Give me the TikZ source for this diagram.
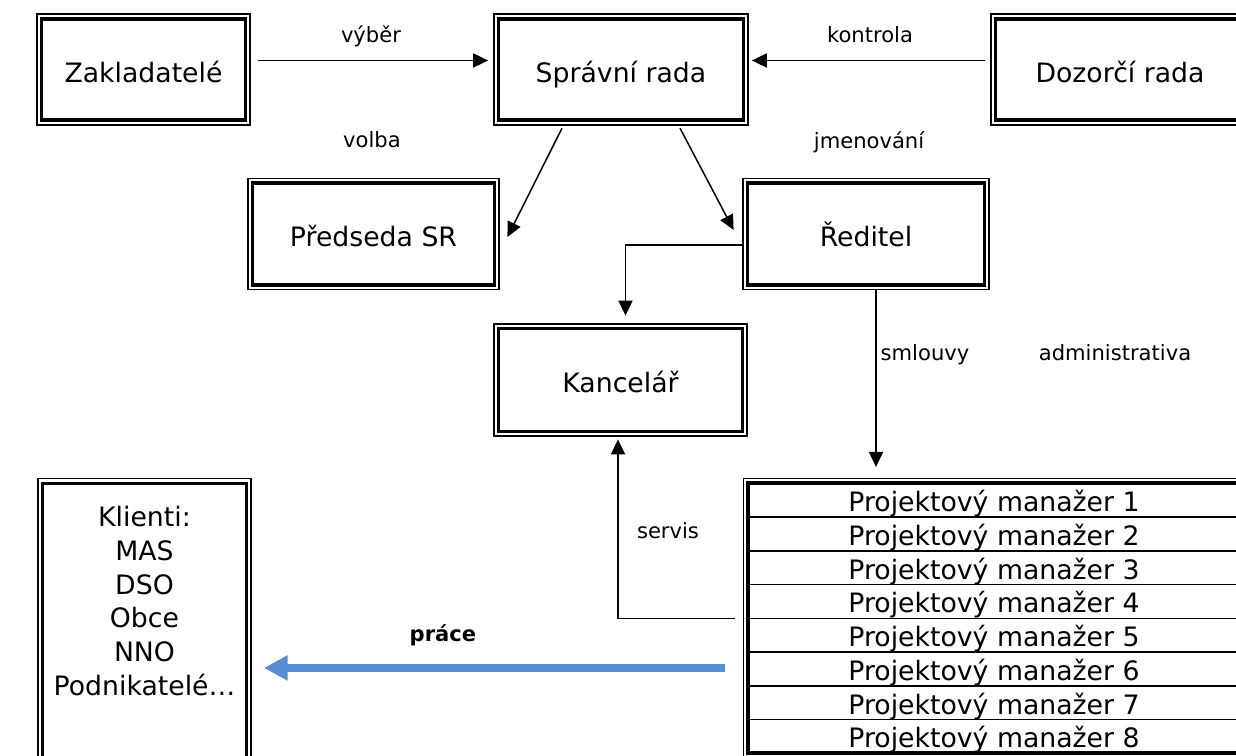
\documentclass[tikz,border=0pt]{standalone}
\usepackage{fontspec}
\setmainfont{DejaVu Sans}
\usetikzlibrary{arrows.meta,fit}

\definecolor{workblue}{RGB}{85,142,213}

\begin{document}
\begin{tikzpicture}[x=0.02cm, y=-0.02cm,
  frame/.style={draw, line width=2.2pt},
  orgbox/.style={frame, minimum width=#1, minimum height=2.03cm, inner sep=0pt,
    font=\fontsize{15.2}{17.4}\selectfont, text height=0.6cm, text depth=0.092cm},
  pmrow/.style={draw, line width=0.85pt, outer sep=0pt, inner sep=0pt,
    minimum width=9.834cm, minimum height=0.675cm,
    font=\fontsize{15.2}{17.4}\selectfont, text height=0.46cm, text depth=0pt},
  lbl/.style={inner sep=0pt, anchor=base, font=\fontsize{12}{14}\selectfont},
  conn/.style={line width=0.85pt, -{Triangle[length=8.5pt,width=8pt]}},
  work/.style={workblue, line width=4.6pt, -{Triangle[length=13.5pt,width=13.5pt]}}]

\useasboundingbox (0,0) rectangle (1236,756);

% boxes
\node (zak) [orgbox=4.08cm] at (143.5,69.5) {Zakladatelé};
\node (sr)  [orgbox=4.9cm]  at (621,69.5)   {Správní rada};
\node (dr)  [orgbox=4.98cm] at (1120,69.5)  {Dozorčí rada};
\node (psr) [orgbox=4.84cm] at (373.5,234)  {Předseda SR};
\node (red) [orgbox=4.74cm] at (866,234)    {Ředitel};
\node (kan) [orgbox=4.88cm, minimum height=2.06cm] at (620.5,380) {Kancelář};
\node (kli) [frame, anchor=north, minimum width=4.08cm, align=center, inner xsep=0pt,
  inner ysep=0.45cm, text depth=6cm, font=\fontsize{15.2}{19.3}\selectfont]
  at (144.5,481.5) {Klienti:\\MAS\\DSO\\Obce\\NNO\\Podnikatelé…};

% table of managers
\foreach \i in {1,...,8}
  \node (pm\i) [pmrow] at (994,{500.2+33.75*(\i-1)}) {Projektový manažer \i};
\node (pmall) [frame, fit=(pm1)(pm8), inner sep=0pt] {};

% thin outer frames
\foreach \n in {zak,sr,dr,psr,red,kan,kli,pmall}
  \draw [line width=0.85pt] ([shift={(-2.8,-2.8)}]\n.north west) rectangle ([shift={(2.8,2.8)}]\n.south east);

% connectors
\draw [conn, shorten <=0.21cm, shorten >=0.17cm] ([yshift=0.18cm]zak.east) -- ([yshift=0.18cm]sr.west);
\draw [conn, shorten <=0.17cm, shorten >=0.13cm] ([yshift=0.18cm]dr.west) -- ([yshift=0.18cm]sr.east);
\draw [conn] ([shift={(-59,6)}]sr.south) -- ([shift={(11,3)}]psr.east);
\draw [conn] ([shift={(59,6)}]sr.south) -- ([shift={(-12,-4)}]red.west);
\draw [conn] ([shift={(-3,11)}]red.west) -| ([shift={(5,-11)}]kan.north);
\coordinate (redfoot) at ([shift={(10,3)}]red.south);
\draw [conn, shorten >=0.29cm] (redfoot) -- (redfoot |- pmall.north);
\draw [conn] ([xshift=-0.26cm]pm4.south west) -| ([shift={(-2.5,6)}]kan.south);
\coordinate (workfrom) at ([shift={(-23,-1)}]pm6.west);
\draw [work, shorten >=0.31cm] (workfrom) -- (workfrom -| kli.east);

% labels
\node (vyber)  [lbl] at (371,43)   {výběr};
\node (kontr)  [lbl] at (870,43)   {kontrola};
\node (volba)  [lbl] at (372,148)  {volba};
\node (jmen)   [lbl] at (869,149)  {jmenování};
\node (smlouv) [lbl] at (925,360)  {smlouvy};
\node (admin)  [lbl] at (1115,360) {administrativa};
\node (servis) [lbl] at (668,538)  {servis};
\node (prace)  [lbl, font=\fontsize{12}{14}\selectfont\bfseries] at (443,641) {práce};
\end{tikzpicture}
\end{document}
